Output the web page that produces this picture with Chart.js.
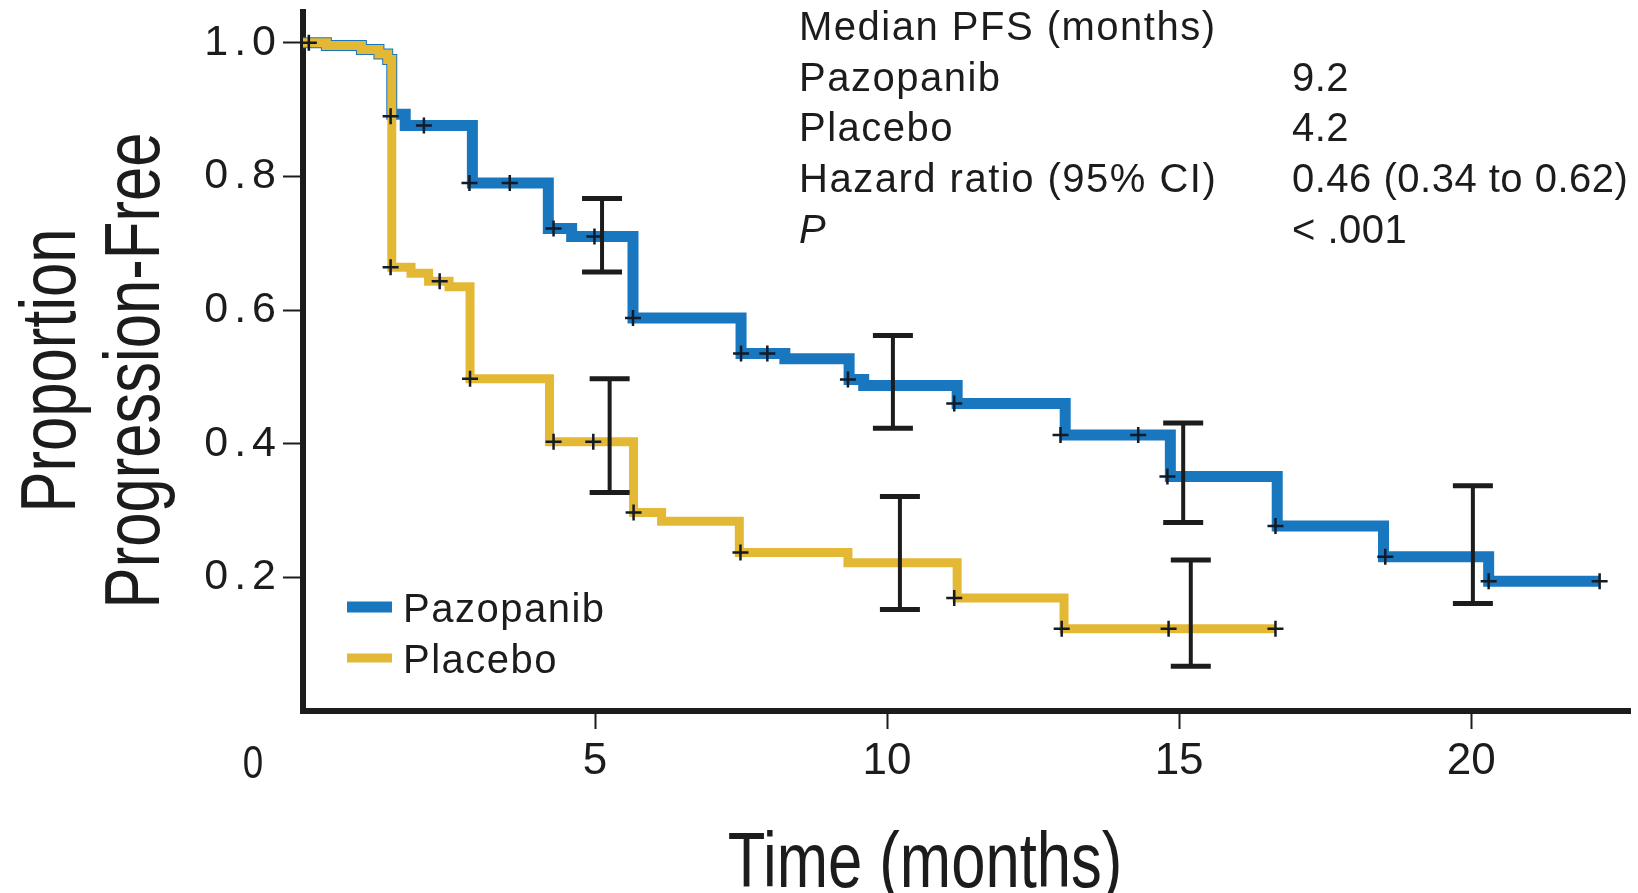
<!DOCTYPE html>
<html>
<head>
<meta charset="utf-8">
<title>Progression-free survival</title>
<script src="https://cdn.jsdelivr.net/npm/chart.js@4.4.1/dist/chart.umd.min.js"></script>
<style>
  html, body { margin: 0; padding: 0; background: #fff; }
  #wrap { width: 1638px; height: 893px; }
</style>
</head>
<body>
<div id="wrap"><canvas id="pfsChart"></canvas></div>
<script>
// KM curves: time of each step (months) and proportion progression-free after it
const paz_time = [0, 0.4, 1.0, 1.3, 1.45, 1.52, 1.75, 2.9, 4.2, 4.6, 5.65, 7.5, 8.25, 9.35, 9.6, 11.2, 13.05, 14.85, 16.68, 18.5, 20.3, 22.2];
const paz_surv = [1.0, 0.996, 0.99, 0.983, 0.975, 0.893, 0.876, 0.79, 0.722, 0.71, 0.588, 0.535, 0.527, 0.496, 0.487, 0.46, 0.413, 0.351, 0.277, 0.231, 0.194, 0.194];
const plc_time = [0, 0.4, 1.0, 1.3, 1.45, 1.52, 1.85, 2.15, 2.5, 2.86, 4.22, 5.66, 6.14, 7.47, 9.33, 11.2, 13.03, 16.65];
const plc_surv = [1.0, 0.996, 0.99, 0.983, 0.975, 0.664, 0.655, 0.643, 0.635, 0.497, 0.403, 0.297, 0.284, 0.237, 0.222, 0.169, 0.123, 0.123];

// censored patients (+)
const paz_cens_time = [1.5, 2.07, 2.85, 3.54, 4.29, 4.99, 5.65, 7.5, 7.95, 9.33, 11.15, 12.97, 14.3, 14.8, 16.65, 18.53, 20.3, 22.2];
const paz_cens_surv = [0.89, 0.876, 0.79, 0.79, 0.722, 0.71, 0.588, 0.535, 0.535, 0.496, 0.46, 0.413, 0.413, 0.351, 0.277, 0.231, 0.194, 0.194];
const plc_cens_time = [0.1, 1.5, 2.34, 2.86, 4.29, 4.97, 5.66, 7.49, 11.15, 12.99, 14.82, 16.65];
const plc_cens_surv = [1.0, 0.664, 0.643, 0.497, 0.403, 0.403, 0.297, 0.237, 0.169, 0.123, 0.123, 0.123];

// 95% confidence intervals
const paz_ci_time = [5.12, 10.1, 15.07, 20.03];
const paz_ci_low = [0.657, 0.423, 0.282, 0.161];
const paz_ci_high = [0.767, 0.562, 0.431, 0.337];
const plc_ci_time = [5.25, 10.22, 15.2];
const plc_ci_low = [0.327, 0.152, 0.067];
const plc_ci_high = [0.497, 0.321, 0.226];

const x_ticks = [0, 5, 10, 15, 20];
const y_ticks = [0.2, 0.4, 0.6, 0.8, 1.0];

const stat_labels = ["Median PFS (months)", "Pazopanib", "Placebo", "Hazard ratio (95% CI)", "P"];
const stat_values = ["", "9.2", "4.2", "0.46 (0.34 to 0.62)", "< .001"];

const ink = "#1c1c1c";
const blue = "#1877be";
const gold = "#e3b834";
const plain = '"Liberation Sans", Arial, sans-serif';

function pts(xs, ys) {
  return xs.map((t, i) => ({x: t, y: ys[i]}));
}

function curve(label, xs, ys, color, width, order) {
  return {
    label: label, km: true,
    data: pts(xs, ys),
    stepped: true,
    borderColor: color, backgroundColor: color,
    borderWidth: width, borderJoinStyle: "miter", borderCapStyle: "butt",
    pointRadius: 0, order: order
  };
}

function censors(xs, ys) {
  return {
    label: "censored",
    data: pts(xs, ys),
    showLine: false,
    pointStyle: "cross", pointRadius: 8, pointHoverRadius: 8,
    pointBorderWidth: 2.5, pointBorderColor: "#141a26",
    order: 0, clip: false
  };
}

function ciBars(xs, lo, hi) {
  return xs.map((t, i) => ({
    label: "95% CI",
    data: [{x: t, y: lo[i]}, {x: t, y: hi[i]}],
    borderColor: ink, borderWidth: 4,
    pointStyle: "line", pointRadius: 20, pointHoverRadius: 20,
    pointBorderWidth: 5, pointBorderColor: ink,
    order: 1, clip: false
  }));
}

// condensed text: the axis titles use a narrow face, faked by squeezing
function squeezed(ctx, text, x, y, rot) {
  ctx.save();
  ctx.translate(x, y);
  ctx.rotate(rot);
  ctx.scale(0.8, 1);
  ctx.fillText(text, 0, 0);
  ctx.restore();
}

// y tick labels are spaced out; their layer (ticks.z: 1) comes after the datasets
const spacing = {
  id: "ySpacing",
  beforeDraw(chart) { chart.ctx.letterSpacing = "0px"; },
  afterDatasetsDraw(chart) { chart.ctx.letterSpacing = "6px"; }
};

// axis titles, legend, stats table and the shared origin "0"
const extras = {
  id: "pfsExtras",
  afterDraw(chart) {
    const {ctx, chartArea} = chart;
    const xs = chart.scales.x;
    ctx.letterSpacing = "0px";
    ctx.save();
    ctx.fillStyle = ink;
    ctx.textAlign = "center";

    ctx.font = "46px " + plain;
    ctx.textBaseline = "middle";
    squeezed(ctx, "0", xs.getPixelForValue(0) - 50, chartArea.bottom + 54, 0);

    ctx.font = "77px " + plain;
    ctx.textBaseline = "alphabetic";
    squeezed(ctx, "Time (months)", chartArea.left + 622, chartArea.bottom + 176, 0);
    const midY = (chartArea.top + chartArea.bottom) / 2 + 9;
    squeezed(ctx, "Proportion", 75, midY, -Math.PI / 2);
    squeezed(ctx, "Progression-Free", 159, midY, -Math.PI / 2);

    // legend
    ctx.textAlign = "left";
    ctx.font = "40px " + plain;
    ctx.letterSpacing = "1.5px";
    const kms = chart.data.datasets.filter(d => d.km);
    kms.forEach((d, i) => {
      const cy = chartArea.bottom - 104 + i * 51;
      ctx.strokeStyle = d.borderColor;
      ctx.lineWidth = d.borderWidth;
      ctx.beginPath();
      ctx.moveTo(chartArea.left + 44, cy);
      ctx.lineTo(chartArea.left + 89, cy);
      ctx.stroke();
      ctx.fillText(d.label, chartArea.left + 100, cy + 15);
    });

    // stats block
    stat_labels.forEach((s, i) => {
      const by = 40 + i * 50.7;
      ctx.letterSpacing = "1.5px";
      ctx.font = (s === "P" ? "italic " : "") + "40px " + plain;
      ctx.fillText(s, 799, by);
      ctx.letterSpacing = "0.5px";
      ctx.font = "40px " + plain;
      ctx.fillText(stat_values[i], 1292, by);
    });
    ctx.restore();
    ctx.letterSpacing = "0px";
  }
};

const datasets = [
  censors(plc_cens_time, plc_cens_surv),
  censors(paz_cens_time, paz_cens_surv),
  ...ciBars(paz_ci_time, paz_ci_low, paz_ci_high),
  ...ciBars(plc_ci_time, plc_ci_low, plc_ci_high),
  curve("Pazopanib", paz_time, paz_surv, blue, 11, 3),
  curve("Placebo", plc_time, plc_surv, gold, 9, 2)
];

function noPad(s) {
  s.paddingTop = 0; s.paddingBottom = 0; s.paddingLeft = 0; s.paddingRight = 0;
}

const ctx = document.getElementById("pfsChart").getContext("2d");
new Chart(ctx, {
  type: "line",
  data: { datasets: datasets },
  options: {
    responsive: true,
    maintainAspectRatio: false,
    animation: false,
    events: [],
    layout: { autoPadding: false, padding: { top: 12, right: 8, left: 0, bottom: 0 } },
    plugins: { legend: { display: false }, tooltip: { enabled: false } },
    scales: {
      x: {
        type: "linear", min: 0, max: 22.72,
        afterBuildTicks: s => { s.ticks = x_ticks.map(v => ({value: v})); },
        afterFit: s => { s.height = 182; noPad(s); },
        border: { color: ink, width: 6 },
        grid: { drawOnChartArea: false, tickLength: 18, tickWidth: 2, tickColor: ink },
        ticks: {
          padding: 6, maxRotation: 0, color: ink,
          font: { family: plain, size: 44 },
          callback: v => v === 0 ? null : String(v)
        }
      },
      y: {
        min: 0, max: 1.046,
        afterBuildTicks: s => { s.ticks = y_ticks.map(v => ({value: v})); },
        afterFit: s => { s.width = 303; noPad(s); },
        border: { color: ink, width: 6 },
        grid: { drawOnChartArea: false, tickLength: 20, tickWidth: 2, tickColor: ink },
        ticks: {
          z: 1, padding: 1, color: ink,
          font: { family: plain, size: 43 },
          callback: v => v.toFixed(1)
        }
      }
    }
  },
  plugins: [spacing, extras]
});
</script>
</body>
</html>
